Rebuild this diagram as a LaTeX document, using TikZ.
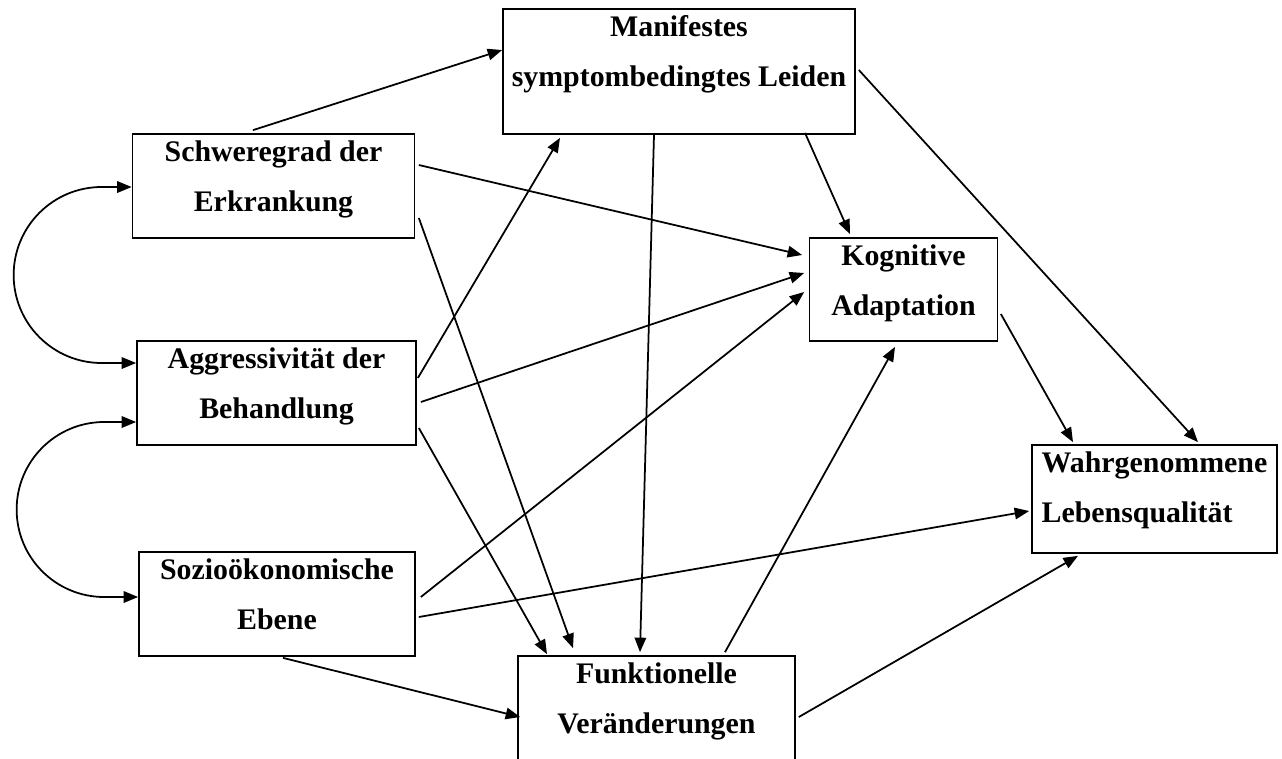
\documentclass[tikz,border=0pt]{standalone}
\usepackage{fontspec}
\setmainfont{Liberation Serif}
\usetikzlibrary{arrows.meta,calc}

\tikzset{
  box/.style={draw, inner sep=0pt},
  boxtext/.style={anchor=north, inner sep=0pt, align=center, yshift=-0.13cm,
    font=\fontsize{17}{28.45}\selectfont\bfseries,
    execute at begin node={\rule{0pt}{0.42cm}}},
}

\begin{document}
\begin{tikzpicture}[x=0.02cm, y=-0.02cm, line width=1pt,
    >={Triangle[length=0.29cm, width=0.23cm]}]
        \useasboundingbox (0,0) rectangle (1282,758);

        % Boxes (coordinates in pixels, y pointing down)
        \node[box, minimum width=7.04cm, minimum height=2.5cm]  (manif)   at (679,71.5) {};
        \node[box, minimum width=5.64cm, minimum height=2.08cm] (schwere) at (273.5,186) {};
        \node[box, minimum width=5.58cm, minimum height=2.08cm] (aggr)    at (276.5,393) {};
        \node[box, minimum width=5.52cm, minimum height=2.08cm] (sozio)   at (277,604) {};
        \node[box, minimum width=3.76cm, minimum height=2.06cm] (kogn)    at (903.5,289.5) {};
        \node[box, minimum width=4.9cm,  minimum height=2.16cm] (wahr)    at (1154.5,499) {};
        \node[box, minimum width=5.54cm, minimum height=2.12cm] (funkt)   at (656.5,709) {};

        % Labels at the top of each box
        \node[boxtext] (manif-t)   at (manif.north)   {Manifestes\\symptombedingtes Leiden};
        \node[boxtext] (schwere-t) at (schwere.north) {Schweregrad der\\Erkrankung};
        \node[boxtext] (aggr-t)    at (aggr.north)    {Aggressivität der\\Behandlung};
        \node[boxtext] (sozio-t)   at (sozio.north)   {Sozioökonomische\\Ebene};
        \node[boxtext] (kogn-t)    at (kogn.north)    {Kognitive\\Adaptation};
        \node[boxtext, align=left] (wahr-t) at (wahr.north) {Wahrgenommene\\Lebensqualität};
        \node[boxtext] (funkt-t)   at (funkt.north)   {Funktionelle\\Veränderungen};

        % Correlations on the left
        \draw[<->] ($(schwere.west)+(0,1)$) -- ++(-30,0)
          arc[start angle=270, end angle=90, radius=88] -- ($(aggr.west)+(0,-30)$);
        \draw[<->] ($(aggr.west)+(0,29)$) -- ++(-32,0)
          arc[start angle=270, end angle=90, radius=87.5] -- ($(sozio.west)+(0,-7)$);

        % Paths from Schweregrad
        \draw[->] ($(schwere.north)+(-20.5,-3)$) -- ($(manif.west)+(0,-21.5)$);
        \draw[->] ($(schwere.east)+(3.5,-21)$) -- ($(kogn.west)+(-6.5,-34.5)$);
        \draw[->] ($(schwere.east)+(3.5,32)$) -- ($(funkt.north)+(-83.5,-7)$);

        % Paths from Aggressivitaet
        \draw[->] ($(aggr.east)+(1,-15)$) -- ($(manif.south)+(-119,3)$);
        \draw[->] ($(aggr.east)+(4,9)$) -- ($(kogn.west)+(-4.5,-16.5)$);
        \draw[->] ($(aggr.east)+(2,35)$) -- ($(funkt.north)+(-109.5,-1)$);

        % Paths from Soziooekonomische Ebene
        \draw[->] ($(sozio.east)+(5,-7)$) -- ($(kogn.west)+(-4.5,2.5)$);
        \draw[->] ($(sozio.east)+(3,13)$) -- ($(wahr.west)+(-2,12)$);
        \draw[->] ($(sozio.south)+(6,1)$) -- ($(funkt.west)+(3,8)$);

        % Paths from Manifestes Leiden
        \draw[->] ($(manif.south)+(-25,0)$) -- ($(funkt.north)+(-16.5,-3)$);
        \draw[->] ($(manif.south)+(126,-2)$) -- ($(kogn.north)+(-53.5,-3)$);
        \draw[->] ($(manif.east)+(3,-1.5)$) -- ($(wahr.north)+(43.5,-2)$);

        % Remaining paths
        \draw[->] ($(kogn.east)+(2.5,24.5)$) -- ($(wahr.north)+(-81.5,-2)$);
        \draw[->] ($(funkt.north)+(68.5,-3)$) -- ($(kogn.south)+(-8.5,5)$);
        \draw[->] ($(funkt.east)+(3,8)$) -- ($(wahr.south)+(-76.5,2)$);
\end{tikzpicture}
\end{document}
